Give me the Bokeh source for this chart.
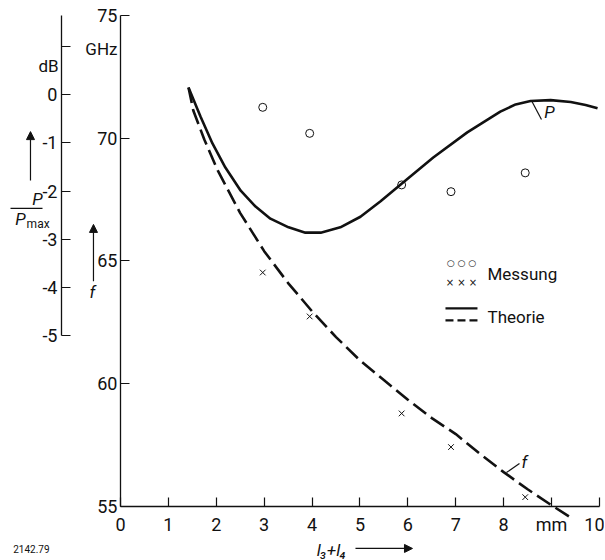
from bokeh.plotting import figure
from bokeh.models import Range1d, LinearAxis, FixedTicker, Label, Arrow, NormalHead
from bokeh.embed import file_html
from bokeh.resources import INLINE

FONT = "Roboto"
SYM = "DejaVu Sans"
INK = "#111111"

# ---- data ----
x_meas = [2.97, 3.95, 5.87, 6.90, 8.45]          # l3+l4 in mm
p_meas_db = [-0.26, -0.80, -1.87, -2.01, -1.62]  # P/Pmax in dB (circles)
f_meas = [64.53, 62.74, 58.79, 57.42, 55.38]     # f in GHz (crosses)

x_p_theo = [1.42, 1.67, 1.92, 2.19, 2.51, 2.82, 3.13, 3.51, 3.86, 4.18, 4.59,
            5.01, 5.43, 5.85, 6.53, 7.24, 7.93, 8.25, 8.56, 8.98, 9.40, 9.71, 9.96]
p_theo_db = [0.15, -0.45, -1.01, -1.51, -1.99, -2.32, -2.57, -2.75, -2.86, -2.86, -2.75,
             -2.53, -2.21, -1.86, -1.30, -0.78, -0.35, -0.20, -0.13, -0.11, -0.15, -0.21, -0.28]

x_f_theo = [1.42, 1.52, 1.75, 2.03, 2.5, 3.0, 3.5, 4.0, 4.5, 5.0, 5.53, 6.0, 6.5,
            7.0, 7.5, 8.0, 8.5, 9.0, 9.43]
f_theo = [72.07, 71.13, 69.95, 68.69, 66.95, 65.4, 64.1, 62.95, 61.9, 60.95, 60.1,
          59.35, 58.6, 57.95, 57.15, 56.4, 55.7, 55.05, 54.51]

x_ticks = [0, 1, 2, 3, 4, 5, 6, 7, 8, 9, 10]
x_tick_labels = {9: "mm"}
f_ticks = [55, 60, 65, 70, 75]
db_ticks = [-5, -4, -3, -2, -1, 0, 1]
db_tick_labels = {-5: "-5", -4: "-4", -3: "-3", -2: "-2", -1: "-1", 0: "0", 1: ""}

# whole canvas is the frame; axes are pinned at fixed data locations
p = figure(width=604, height=559, output_backend="svg", toolbar_location=None,
           x_range=Range1d(-2.505, 10.105), y_range=Range1d(52.84, 75.611), title=None,
           min_border=0)
p.outline_line_color = None
p.xgrid.visible = False
p.ygrid.visible = False
p.background_fill_color = "white"
p.border_fill_color = "white"

p.extra_y_ranges = {"db": Range1d(-9.641, 1.956)}


def style_axis(ax, size="18px"):
    ax.axis_line_color = INK
    ax.axis_line_width = 1.3
    ax.major_tick_line_color = INK
    ax.major_tick_line_width = 1.2
    ax.major_tick_in = 9
    ax.major_tick_out = 0
    ax.minor_tick_line_color = None
    ax.major_label_text_font = FONT
    ax.major_label_text_font_size = size
    ax.major_label_text_color = INK


xa = p.xaxis[0]
style_axis(xa)
xa.ticker = FixedTicker(ticks=x_ticks)
xa.major_label_overrides = x_tick_labels
xa.major_label_standoff = 8
xa.fixed_location = 55
xa.bounds = (0, 10)

ya = p.yaxis[0]
style_axis(ya)
ya.ticker = FixedTicker(ticks=f_ticks)
ya.major_label_standoff = 3
ya.fixed_location = 0
ya.bounds = (55, 75)

dba = LinearAxis(y_range_name="db", ticker=FixedTicker(ticks=db_ticks),
                 bounds=(-5, 1.645), fixed_location=-1.232)
style_axis(dba)
dba.major_label_overrides = db_tick_labels
dba.major_label_standoff = 4
p.add_layout(dba, "left")

# ---- theory curves ----
p.line(x_p_theo, p_theo_db, y_range_name="db", line_color=INK, line_width=2.6)
p.line(x_f_theo, f_theo, line_color=INK, line_width=2.6, line_dash="16 6")

# ---- measurements ----
p.scatter(x_meas, p_meas_db, y_range_name="db", marker="circle", size=8,
          fill_color=None, line_color=INK, line_width=1)
p.scatter(x_meas, f_meas, marker="x", size=8, line_color=INK, line_width=1)


def lab(x, y, text, size="17px", align="center", base="middle", style="normal", font=FONT):
    p.add_layout(Label(x=x, y=y, text=text, text_font=font, text_font_size=size,
                       text_align=align, text_baseline=base, text_color=INK,
                       text_font_style=style))


def seg(x0, y0, x1, y1, width=1.2, dash="solid", head=False):
    p.add_layout(Arrow(x_start=x0, y_start=y0, x_end=x1, y_end=y1,
                       line_color=INK, line_width=width, line_dash=dash,
                       end=NormalHead(size=8, fill_color=INK, line_color=INK) if head else None,
                       start=None))


# axis annotations
lab(-0.063, 73.615, "GHz", align="right")
lab(-1.503, 72.96, "dB")
seg(-1.879, 68.28, -1.879, 70.27, head=True)
lab(-1.733, 67.505, "P", style="italic")
seg(-2.296, 67.14, -1.628, 67.14)
lab(-2.088, 66.69, "P", style="italic")
lab(-1.96, 66.49, "max", size="12px", align="left")
seg(-0.564, 64.17, -0.564, 66.49, head=True)
lab(-0.585, 63.72, "f", style="italic")
lab(4.405, 53.21, "l\u2083+l\u2084", style="italic")
seg(4.906, 53.29, 6.096, 53.29, head=True)
lab(-1.86, 53.25, "2142.79", size="10px")

# curve labels
seg(8.580, 71.54, 8.789, 70.76)
lab(8.956, 71.05, "P", style="italic")
seg(8.058, 56.38, 8.330, 56.75)
lab(8.434, 56.83, "f", style="italic")

# legend
lab(7.119, 64.92, "\u25cb \u25cb \u25cb", size="9px", font=SYM)
lab(7.119, 64.12, "\u00d7 \u00d7 \u00d7", size="10px", font=SYM)
lab(7.662, 64.49, "Messung", align="left")
seg(6.785, 63.07, 7.453, 63.07, width=2.2)
seg(6.785, 62.58, 7.453, 62.58, width=2.2, dash="8 4")
lab(7.662, 62.70, "Theorie", align="left")

open("out.html", "w").write(file_html(p, INLINE))
